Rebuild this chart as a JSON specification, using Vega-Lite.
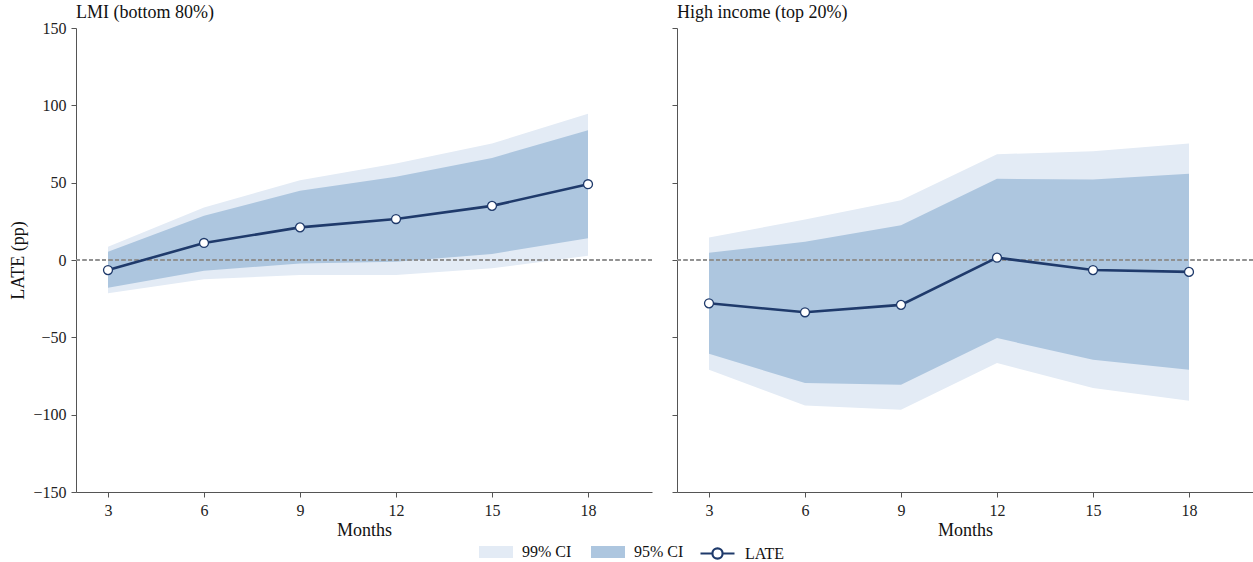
{
  "$schema": "https://vega.github.io/schema/vega-lite/v6.json",
  "background": "white",
  "padding": {"left": 9, "top": 4, "right": 0, "bottom": 0},
  "bounds": "flush",
  "spacing": 25,
  "data": {"values": [
    {"panel": "LMI", "month": 3, "est": -6.5, "lo95": -18.0, "hi95": 5.4, "lo99": -21.5, "hi99": 8.6},
    {"panel": "LMI", "month": 6, "est": 11.0, "lo95": -6.9, "hi95": 28.6, "lo99": -12.5, "hi99": 34.0},
    {"panel": "LMI", "month": 9, "est": 21.1, "lo95": -2.2, "hi95": 44.7, "lo99": -9.7, "hi99": 51.6},
    {"panel": "LMI", "month": 12, "est": 26.5, "lo95": -1.1, "hi95": 53.8, "lo99": -9.7, "hi99": 62.4},
    {"panel": "LMI", "month": 15, "est": 35.0, "lo95": 3.9, "hi95": 66.0, "lo99": -5.4, "hi99": 75.3},
    {"panel": "LMI", "month": 18, "est": 49.0, "lo95": 14.0, "hi95": 83.9, "lo99": 2.8, "hi99": 94.6},
    {"panel": "High", "month": 3, "est": -28.0, "lo95": -60.6, "hi95": 4.7, "lo99": -71.0, "hi99": 14.6},
    {"panel": "High", "month": 6, "est": -33.8, "lo95": -79.6, "hi95": 11.8, "lo99": -94.0, "hi99": 26.2},
    {"panel": "High", "month": 9, "est": -29.0, "lo95": -80.6, "hi95": 22.4, "lo99": -96.8, "hi99": 38.7},
    {"panel": "High", "month": 12, "est": 1.5, "lo95": -50.5, "hi95": 52.5, "lo99": -66.6, "hi99": 68.4},
    {"panel": "High", "month": 15, "est": -6.5, "lo95": -64.5, "hi95": 52.0, "lo99": -82.8, "hi99": 70.3},
    {"panel": "High", "month": 18, "est": -7.7, "lo95": -71.0, "hi95": 55.7, "lo99": -91.0, "hi99": 75.3}
  ]},
  "hconcat": [
    {
      "width": 576,
      "height": 464,
      "title": {"text": "LMI (bottom 80%)"},
      "transform": [{"filter": "datum.panel === 'LMI'"}],
      "layer": [
        {
          "mark": {"type": "area"},
          "encoding": {
            "x": {"field": "month", "type": "quantitative", "scale": {"domain": [2, 20], "nice": false, "zero": false},
                  "axis": {"values": [3, 6, 9, 12, 15, 18], "title": "Months"}},
            "y": {"field": "lo99", "type": "quantitative", "scale": {"domain": [-150, 150], "nice": false},
                  "axis": {"values": [-150, -100, -50, 0, 50, 100, 150], "title": "LATE (pp)", "labelExpr": "replace(datum.label, '-', '\u2212')"}},
            "y2": {"field": "hi99"},
            "fill": {"datum": "99% CI", "type": "nominal", "scale": {"domain": ["99% CI", "95% CI"], "range": ["#e3ebf5", "#adc6df"]},
                     "legend": {"title": null, "orient": "none", "direction": "horizontal", "legendX": 403, "legendY": 507,
                                "symbolType": "M-1,-0.35H1V0.35H-1Z", "symbolStrokeWidth": 0}}
          }
        },
        {
          "mark": {"type": "area"},
          "encoding": {
            "x": {"field": "month", "type": "quantitative"},
            "y": {"field": "lo95", "type": "quantitative"},
            "y2": {"field": "hi95"},
            "fill": {"datum": "95% CI", "type": "nominal"}
          }
        },
        {
          "mark": {"type": "rule", "color": "#8f8f8f", "strokeDash": [4, 2.5], "strokeWidth": 1, "opacity": 0.9},
          "encoding": {"y": {"datum": 0, "type": "quantitative"}}
        },
        {
          "mark": {"type": "line", "strokeWidth": 2.6},
          "encoding": {
            "x": {"field": "month", "type": "quantitative"},
            "y": {"field": "est", "type": "quantitative"},
            "stroke": {"datum": "LATE", "type": "nominal", "scale": {"domain": ["LATE"], "range": ["#1f3a6b"]},
                       "legend": {"title": null, "orient": "none", "direction": "horizontal", "legendX": 623, "legendY": 507,
                                  "symbolType": "M-1,0H-0.3M0.3,0H1M0.3,0A0.3,0.3,0,1,1,-0.3,0A0.3,0.3,0,1,1,0.3,0",
                                  "symbolFillColor": "white", "symbolStrokeWidth": 2.2}}
          }
        },
        {
          "mark": {"type": "point", "filled": true, "fill": "white", "stroke": "#1f3a6b", "strokeWidth": 1.3, "size": 80, "opacity": 1},
          "encoding": {
            "x": {"field": "month", "type": "quantitative"},
            "y": {"field": "est", "type": "quantitative"}
          }
        }
      ]
    },
    {
      "width": 576,
      "height": 464,
      "title": {"text": "High income (top 20%)"},
      "transform": [{"filter": "datum.panel === 'High'"}],
      "layer": [
        {
          "mark": {"type": "area"},
          "encoding": {
            "x": {"field": "month", "type": "quantitative", "scale": {"domain": [2, 20], "nice": false, "zero": false},
                  "axis": {"values": [3, 6, 9, 12, 15, 18], "title": "Months"}},
            "y": {"field": "lo99", "type": "quantitative", "scale": {"domain": [-150, 150], "nice": false},
                  "axis": {"values": [-150, -100, -50, 0, 50, 100, 150], "title": null, "labelColor": "transparent", "labelExpr": "replace(datum.label, '-', '\u2212')"}},
            "y2": {"field": "hi99"},
            "fill": {"datum": "99% CI", "type": "nominal"}
          }
        },
        {
          "mark": {"type": "area"},
          "encoding": {
            "x": {"field": "month", "type": "quantitative"},
            "y": {"field": "lo95", "type": "quantitative"},
            "y2": {"field": "hi95"},
            "fill": {"datum": "95% CI", "type": "nominal"}
          }
        },
        {
          "mark": {"type": "rule", "color": "#8f8f8f", "strokeDash": [4, 2.5], "strokeWidth": 1, "opacity": 0.9},
          "encoding": {"y": {"datum": 0, "type": "quantitative"}}
        },
        {
          "mark": {"type": "line", "strokeWidth": 2.6},
          "encoding": {
            "x": {"field": "month", "type": "quantitative"},
            "y": {"field": "est", "type": "quantitative"},
            "stroke": {"datum": "LATE", "type": "nominal"}
          }
        },
        {
          "mark": {"type": "point", "filled": true, "fill": "white", "stroke": "#1f3a6b", "strokeWidth": 1.3, "size": 80, "opacity": 1},
          "encoding": {
            "x": {"field": "month", "type": "quantitative"},
            "y": {"field": "est", "type": "quantitative"}
          }
        }
      ]
    }
  ],
  "config": {
    "font": "Liberation Serif",
    "view": {"stroke": null},
    "title": {"anchor": "start", "frame": "group", "fontSize": 18, "fontWeight": "normal", "color": "#111", "offset": -2},
    "axis": {
      "grid": false,
      "domainColor": "#555",
      "tickColor": "#555",
      "tickSize": 5,
      "labelFontSize": 16,
      "labelColor": "#222",
      "titleFontSize": 18,
      "titleFontWeight": "normal",
      "titleColor": "#111",
      "labelPadding": 5,
      "labelFont": "Liberation Serif",
      "titleFont": "Liberation Serif"
    },
    "axisX": {"titlePadding": 3},
    "axisY": {"titlePadding": 5},
    "legend": {
      "labelFontSize": 16,
      "labelFont": "Liberation Serif",
      "labelColor": "#111",
      "symbolSize": 1156,
      "columnPadding": 19,
      "labelOffset": 9,
      "padding": 0
    }
  }
}
